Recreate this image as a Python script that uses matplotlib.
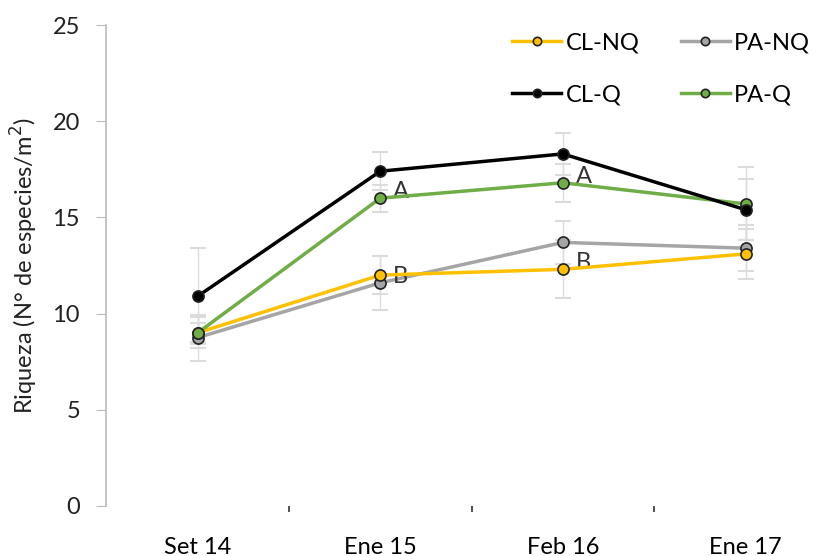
import matplotlib.pyplot as plt

# data
fechas = ["Set 14", "Ene 15", "Feb 16", "Ene 17"]
cl_nq = [9.0, 12.0, 12.3, 13.1]
pa_nq = [8.75, 11.6, 13.7, 13.4]
cl_q = [10.9, 17.4, 18.3, 15.4]
pa_q = [9.0, 16.0, 16.8, 15.7]
cl_nq_err = [0.5, 1.0, 1.5, 1.3]
pa_nq_err = [1.2, 1.4, 1.1, 1.2]
cl_q_err = [2.5, 1.0, 1.1, 1.6]
pa_q_err = [0.8, 0.7, 1.0, 1.9]
letras = [(1, 16.0, "A"), (1, 11.6, "B"), (2, 16.8, "A"), (2, 12.3, "B")]

plt.rcParams["font.family"] = ["Lato", "DejaVu Sans"]

fig = plt.figure(figsize=(8.18, 5.56), dpi=100)
ax = fig.add_axes([0.13, 0.09, 0.893, 0.865])

x = range(len(fechas))
series = [
    ("CL-NQ", cl_nq, cl_nq_err, "#ffc000"),
    ("CL-Q", cl_q, cl_q_err, "black"),
    ("PA-NQ", pa_nq, pa_nq_err, "#a5a5a5"),
    ("PA-Q", pa_q, pa_q_err, "#70ad47"),
]
zorders = {"CL-NQ": 4, "PA-NQ": 3, "CL-Q": 6, "PA-Q": 5}
handles = []
for nombre, vals, err, col in series:
    _, caps, bars = ax.errorbar(x, vals, yerr=err, fmt="none", ecolor="#dcdcdc",
                                elinewidth=1, capsize=6, capthick=1.5, zorder=2)
    for c in caps:
        c.set_color("#9a9a9a")
    (h,) = ax.plot(x, vals, color=col, lw=2.5, marker="o", markersize=8,
                   markerfacecolor=col, markeredgecolor="#222222",
                   markeredgewidth=1.2, label=nombre, zorder=zorders[nombre])
    handles.append(h)

for xi, yi, t in letras:
    ax.text(xi + 0.07, yi + 0.35, t, fontsize=17, color="#333333",
            ha="left", va="center")

ax.set_xlim(-0.5, 3.5)
ax.set_ylim(0, 25)
ax.set_yticks([0, 5, 10, 15, 20, 25])
ax.set_xticks(list(x))
ax.set_xticklabels(fechas, fontsize=17)
ax.set_xticks([0.5, 1.5, 2.5], minor=True)
ax.tick_params(axis="x", which="major", length=0, pad=22)
ax.tick_params(axis="x", which="minor", length=4, width=1.2, color="#333333")
ax.tick_params(axis="y", length=7, color="#bbbbbb", labelsize=17, pad=12,
               labelcolor="#222222")
for s in ["top", "right", "bottom"]:
    ax.spines[s].set_visible(False)
ax.spines["left"].set_color("#bbbbbb")
ax.spines["left"].set_linewidth(1.2)

ax.set_ylabel("Riqueza (N° de especies/m$^2$)", fontsize=17, labelpad=9,
              color="#222222")

ax.legend(handles=handles, ncol=2, frameon=False, fontsize=17,
          loc="upper left", bbox_to_anchor=(0.526, 1.029), labelspacing=1.32,
          handlelength=2.1, columnspacing=1.75, markerscale=0.75,
          handletextpad=0.17)

fig.savefig("out.png", dpi=100)
